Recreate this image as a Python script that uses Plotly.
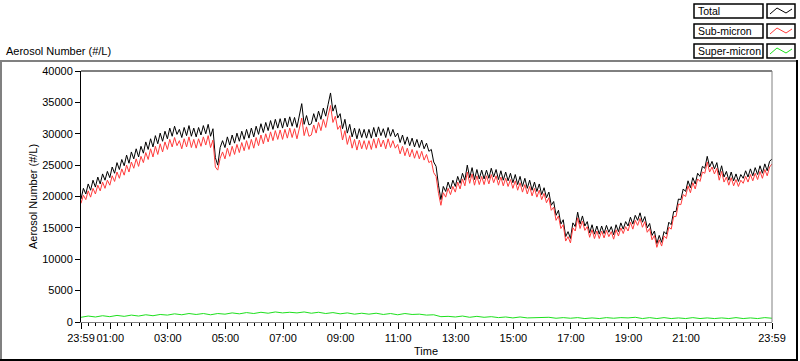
import plotly.graph_objects as go

# minutes since 23:59 (0 = 23:59, 1440 = 23:59 next day)
step_main = 5
total_rows = [
    [19600, 21300, 20400, 22000, 21000, 22600, 21500, 23100, 22000, 23600, 22600, 24000],
    [23000, 24700, 23700, 25400, 24300, 25900, 24900, 26600, 25300, 27100, 26000, 27600],
    [26300, 28000, 26900, 28700, 27500, 29200, 27900, 29700, 28400, 30100, 28800, 30400],
    [29200, 30900, 29600, 31200, 29900, 30700, 29400, 31000, 29700, 31300, 29600, 30900],
    [29500, 31000, 29800, 31300, 30000, 31500, 29600, 30800, 26200, 25000, 27800, 28900],
    [27800, 29500, 28200, 29800, 28500, 30100, 28800, 30400, 29100, 30700, 29300, 30900],
    [29500, 31200, 29900, 31600, 30200, 31800, 30500, 32100, 30700, 32300, 30900, 32400],
    [30900, 32500, 31100, 32700, 31200, 32600, 31000, 32800, 34800, 31500, 32900, 31400],
    [31600, 33200, 31900, 33600, 32300, 34100, 32800, 34700, 36500, 33600, 34600, 32500],
    [33200, 30800, 32300, 30100, 31500, 29500, 30900, 29200, 30800, 29400, 30700, 29300],
    [30700, 29300, 31000, 29500, 31100, 29700, 30800, 29400, 31000, 29600, 30700, 29500],
    [30100, 28600, 29800, 28300, 29500, 28100, 29300, 27900, 29100, 27800, 29000, 27600],
    [28500, 27200, 27500, 25500, 24800, 21800, 19500, 21600, 20800, 22300, 21200, 22600],
    [21600, 23200, 22100, 23700, 22600, 25000, 23000, 24600, 22700, 24300, 22800, 24200],
    [22800, 24200, 22900, 24500, 23100, 24300, 22700, 24100, 22600, 23900, 22500, 23700],
    [22200, 23500, 21900, 23200, 21600, 22900, 21300, 22600, 21000, 22300, 20800, 22000],
    [20300, 21400, 19800, 20700, 18600, 19200, 17000, 17800, 15600, 16300, 13600, 14400],
    [13300, 15800, 15200, 17500, 15600, 16900, 15300, 16000, 14200, 15500, 14000, 15300],
    [14000, 15300, 14100, 15400, 14300, 15200, 13900, 15500, 14400, 15800, 14800, 16000],
    [15300, 16700, 15600, 17000, 16200, 17400, 15900, 16800, 15000, 15700, 13800, 14500],
    [12500, 13800, 12700, 14400, 14000, 15900, 15500, 17600, 17600, 19600, 19500, 21200],
    [20800, 22500, 21400, 23000, 22000, 23700, 23200, 24800, 24500, 26400, 24700, 25600],
    [24400, 25400, 23400, 24900, 23100, 24000, 22600, 23900, 22500, 23600, 22400, 23500],
    [22900, 24100, 23100, 24400, 23300, 24600, 23500, 24900, 23700, 25200, 24100, 25600, 26000],
]
sub_rows = [
    [18900, 20200, 19500, 20900, 19900, 21300, 20400, 21800, 20900, 22300, 21300, 22600],
    [21800, 23300, 22400, 23900, 22900, 24400, 23400, 25000, 23900, 25500, 24500, 26000],
    [24800, 26400, 25400, 27000, 25900, 27600, 26300, 28000, 26700, 28400, 27100, 28700],
    [27500, 29100, 27900, 29400, 28100, 28900, 27600, 29200, 27900, 29500, 27800, 29100],
    [27700, 29200, 28000, 29500, 28200, 29700, 27800, 29000, 24700, 24200, 26100, 27100],
    [26000, 27700, 26400, 28000, 26700, 28300, 27000, 28600, 27300, 28900, 27500, 29100],
    [27700, 29400, 28100, 29800, 28400, 30000, 28700, 30300, 28900, 30500, 29100, 30600],
    [29100, 30700, 29300, 30900, 29400, 30800, 29200, 31000, 32500, 29700, 31100, 29600],
    [29800, 31400, 30100, 31800, 30500, 32300, 31000, 32900, 34500, 31800, 32800, 30700],
    [31300, 29000, 30500, 28300, 29700, 27700, 29100, 27400, 29000, 27600, 28900, 27500],
    [28900, 27500, 29200, 27700, 29300, 27900, 29000, 27600, 29200, 27800, 28900, 27700],
    [28300, 26800, 28000, 26500, 27700, 26300, 27500, 26100, 27300, 26000, 27200, 25800],
    [26700, 25400, 25700, 23800, 23200, 20500, 18600, 20600, 19900, 21300, 20300, 21600],
    [20700, 22300, 21200, 22800, 21700, 23900, 22100, 23600, 21800, 23300, 21900, 23200],
    [21900, 23300, 22000, 23500, 22200, 23300, 21800, 23100, 21700, 22900, 21600, 22700],
    [21300, 22500, 21000, 22200, 20700, 21900, 20400, 21600, 20100, 21300, 19900, 21000],
    [19500, 20500, 19000, 19800, 17800, 18300, 16200, 16900, 14900, 15500, 12900, 13600],
    [12600, 15000, 14500, 16600, 14900, 16100, 14600, 15200, 13500, 14700, 13300, 14500],
    [13300, 14500, 13400, 14600, 13600, 14400, 13200, 14700, 13700, 15000, 14100, 15200],
    [14500, 15900, 14800, 16200, 15400, 16500, 15100, 16000, 14300, 14900, 13100, 13800],
    [11900, 13100, 12100, 13700, 13300, 15100, 14800, 16800, 16800, 18800, 18700, 20300],
    [20000, 21700, 20600, 22200, 21200, 22800, 22400, 23900, 23700, 25500, 23900, 24700],
    [23600, 24500, 22600, 24000, 22300, 23100, 21800, 23000, 21700, 22700, 21600, 22600],
    [22100, 23200, 22300, 23500, 22500, 23700, 22700, 24000, 22900, 24300, 23300, 24700, 25200],
]
step_super = 15
super_rows = [
    [750, 950, 800, 1000], [850, 1050, 900, 1100], [950, 1150, 1000, 1200],
    [1100, 1300, 1150, 1350], [1200, 1350, 1150, 1350], [1250, 1450, 1300, 1500],
    [1350, 1550, 1400, 1600], [1450, 1550, 1450, 1600], [1400, 1550, 1350, 1500],
    [1300, 1450, 1250, 1400], [1250, 1400, 1200, 1350], [1150, 1350, 1200, 1250],
    [1100, 1150, 850, 900], [800, 950, 750, 900], [750, 850, 700, 800],
    [650, 800, 650, 700], [650, 750, 600, 700], [600, 700, 550, 650],
    [550, 700, 600, 700], [650, 750, 550, 700], [550, 700, 550, 650],
    [550, 700, 550, 650], [550, 650, 550, 700], [550, 650, 550, 700, 600],
]

tick_vals = [0, 61, 181, 301, 421, 541, 661, 781, 901, 1021, 1141, 1261, 1440]
tick_text = ["23:59", "01:00", "03:00", "05:00", "07:00", "09:00", "11:00",
             "13:00", "15:00", "17:00", "19:00", "21:00", "23:59"]
y_ticks = [0, 5000, 10000, 15000, 20000, 25000, 30000, 35000, 40000]

series_names = ["Total", "Sub-micron", "Super-micron"]
series_colors = ["#000000", "#ff3b3b", "#1ee01e"]

total = [v for r in total_rows for v in r]
sub = [v for r in sub_rows for v in r]
sup = [v for r in super_rows for v in r]
x_main = [i * step_main for i in range(len(total))]
x_sup = [i * step_super for i in range(len(sup))]

FONT = "Liberation Sans"
FS = 11
W, H = 800, 361
L, R, T, B = 81, 772, 71, 322

def px(x):
    return (x - L) / (R - L)

def py(y):
    return (B - y) / (B - T)

fig = go.Figure()
for xs, ys, name, col in [(x_main, total, series_names[0], series_colors[0]),
                          (x_main, sub, series_names[1], series_colors[1]),
                          (x_sup, sup, series_names[2], series_colors[2])]:
    fig.add_trace(go.Scatter(x=xs, y=ys, mode="lines", name=name,
                             line=dict(color=col, width=1), showlegend=False,
                             hoverinfo="skip"))

shapes = []
def line(x0, y0, x1, y1, color, width=1):
    shapes.append(dict(type="line", xref="paper", yref="paper",
                       x0=px(x0), y0=py(y0), x1=px(x1), y1=py(y1),
                       line=dict(color=color, width=width)))

# outer panel (3D style)
line(0, 61, 798, 61, "#808080", 2)
line(1, 61, 1, 361, "#808080", 2)
line(797, 60, 797, 361, "#000000", 2)
line(0, 360, 798, 360, "#000000", 2)
# plot frame: top black, right gray
line(L, T, R, T, "#000000", 1)
line(R, T, R, B, "#808080", 1)

annotations = []
# legend boxes
for i, (name, col) in enumerate(zip(series_names, series_colors)):
    top = 4 + 20 * i
    shapes.append(dict(type="rect", xref="paper", yref="paper",
                       x0=px(694), x1=px(763), y0=py(top), y1=py(top + 14),
                       line=dict(color="#000000", width=1.5), fillcolor="white"))
    shapes.append(dict(type="rect", xref="paper", yref="paper",
                       x0=px(767), x1=px(795), y0=py(top), y1=py(top + 14),
                       line=dict(color="#000000", width=1.5), fillcolor="white"))
    pts = [(770, top + 10), (777, top + 4), (786, top + 9), (792, top + 5)]
    path = "M " + " L ".join(f"{px(a)},{py(b)}" for a, b in pts)
    shapes.append(dict(type="path", xref="paper", yref="paper", path=path,
                       line=dict(color=col, width=1)))
    annotations.append(dict(text=name, xref="paper", yref="paper",
                            x=px(696), y=py(top + 7), xanchor="left", yanchor="middle",
                            showarrow=False, font=dict(family=FONT, size=10.5, color="black")))

annotations.append(dict(text="Aerosol Number (#/L)", xref="paper", yref="paper",
                        x=px(4), y=py(51), xanchor="left", yanchor="middle",
                        showarrow=False, font=dict(family=FONT, size=FS, color="black")))
annotations.append(dict(text="Aerosol Number (#/L)", xref="paper", yref="paper",
                        x=px(33), y=py(196), xanchor="center", yanchor="middle",
                        textangle=-90, showarrow=False,
                        font=dict(family=FONT, size=FS, color="black")))
annotations.append(dict(text="Time", xref="paper", yref="paper",
                        x=px(426), y=py(351), xanchor="center", yanchor="middle",
                        showarrow=False, font=dict(family=FONT, size=FS, color="black")))

fig.update_layout(
    width=W, height=H,
    margin=dict(l=L, r=W - R, t=T, b=H - B, pad=0),
    paper_bgcolor="white", plot_bgcolor="white",
    font=dict(family=FONT, size=FS, color="black"),
    shapes=shapes, annotations=annotations, showlegend=False,
)
fig.update_xaxes(range=[0, 1440], tickmode="array", tickvals=tick_vals, ticktext=tick_text,
                 tickangle=0, ticks="outside", ticklen=6, tickcolor="black", tickwidth=1,
                 showline=True, linecolor="#808080", linewidth=1, showgrid=False, zeroline=False,
                 tickfont=dict(family=FONT, size=FS),
                 minor=dict(tickmode="linear", tick0=1, dtick=15, ticks="outside", ticklen=3,
                            tickcolor="black", showgrid=False))
fig.update_yaxes(range=[0, 40000], tickmode="array", tickvals=y_ticks,
                 ticktext=[str(v) for v in y_ticks],
                 ticks="outside", ticklen=5, tickcolor="black", tickwidth=1,
                 showline=True, linecolor="black", linewidth=1, showgrid=False, zeroline=False,
                 tickfont=dict(family=FONT, size=FS))

fig.write_html("out.html", config={"displayModeBar": False},
               post_script="document.body.style.margin='0';document.body.style.overflow='hidden';")
